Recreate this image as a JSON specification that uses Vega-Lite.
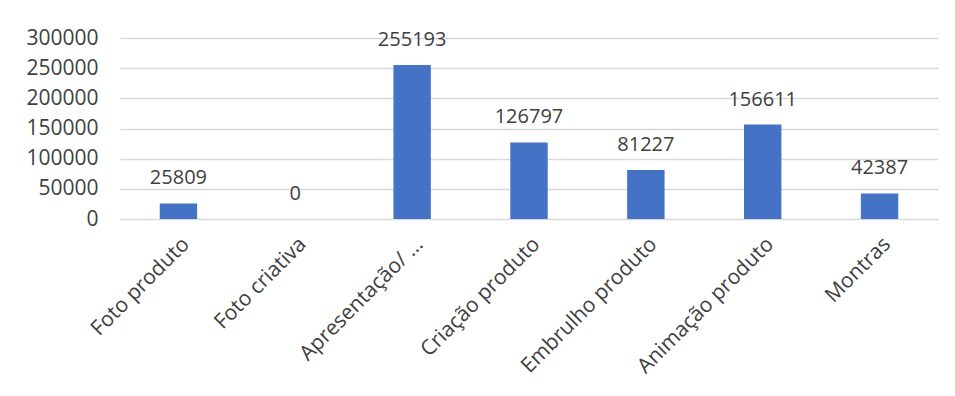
{
  "$schema": "https://vega.github.io/schema/vega-lite/v6.json",
  "autosize": {"type": "none"},
  "width": 818,
  "height": 181,
  "padding": {"left": 120, "top": 38, "right": 17, "bottom": 177},
  "background": "white",
  "config": {"view": {"stroke": null}, "font": "Open Sans"},
  "data": {"values": [
    {"cat": "Foto produto", "v": 25809},
    {"cat": "Foto criativa", "v": 0},
    {"cat": "Apresentação/ ...", "v": 255193},
    {"cat": "Criação produto", "v": 126797},
    {"cat": "Embrulho produto", "v": 81227},
    {"cat": "Animação produto", "v": 156611},
    {"cat": "Montras", "v": 42387}
  ]},
  "encoding": {
    "x": {"field": "cat", "type": "nominal", "sort": null, "title": null,
      "scale": {"paddingInner": 0.68, "paddingOuter": 0.34},
      "axis": {"labelAngle": -45, "labelFontSize": 21, "labelColor": "#404040", "ticks": false,
        "domain": false, "labelPadding": 14, "labelLimit": 300, "labelFont": "Open Sans"}},
    "y": {"field": "v", "type": "quantitative", "title": null,
      "scale": {"domain": [0, 300000], "nice": false},
      "axis": {"values": [0, 50000, 100000, 150000, 200000, 250000, 300000], "format": "d",
        "labelFontSize": 21, "labelColor": "#404040", "ticks": false, "domain": false,
        "labelPadding": 22, "gridColor": "#d9d9d9", "gridWidth": 1.3, "labelFont": "Open Sans"}}
  },
  "layer": [
    {"mark": {"type": "bar", "color": "#4472C4"}},
    {"mark": {"type": "text", "dy": -25, "baseline": "middle", "fontSize": 20, "color": "#404040", "font": "Open Sans"},
      "encoding": {"text": {"field": "v", "type": "quantitative", "format": "d"}}}
  ]
}
